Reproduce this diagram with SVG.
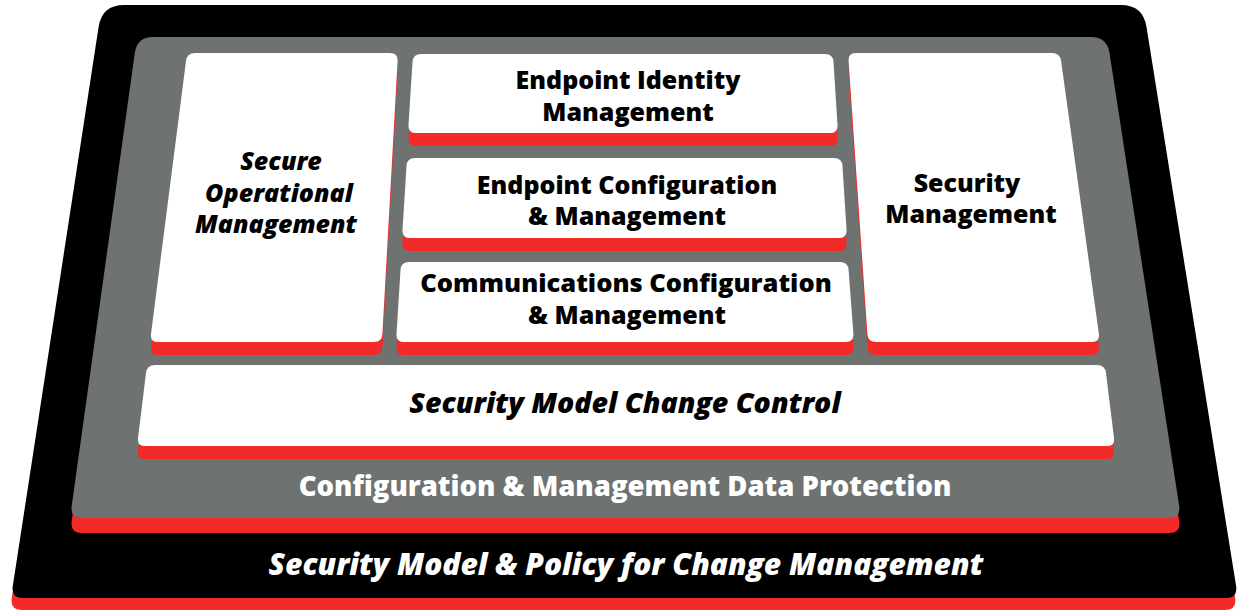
<svg xmlns="http://www.w3.org/2000/svg" width="1243" height="611" viewBox="0 0 1243 611">
<style>
.red{fill:#f22a28}
.blk{fill:#000}
.gry{fill:#6e7271}
.box{fill:#fff}
.t{font-family:"Open Sans","Liberation Sans",sans-serif;font-weight:800;font-size:25px;fill:#000;text-anchor:middle}
.i{font-style:italic}
.w{fill:#fff}
</style>
<g id="outer-layer">
<path class="red" transform="translate(-1,12)" d="M124,5 H1121 Q1143,5 1146.5,27 L1236.1,586 Q1238,598 1226,598 H23 Q11,598 12.8,586 L98.6,27 Q102,5 124,5 Z"/>
<path class="blk" d="M124,5 H1121 Q1143,5 1146.5,27 L1236.1,586 Q1238,598 1226,598 H23 Q11,598 12.8,586 L98.6,27 Q102,5 124,5 Z"/>
<text class="t i w" x="626" y="575" style="font-size:30px">Security Model &amp; Policy for Change Management</text>
</g>
<g id="data-protection-layer">
<path class="red" transform="translate(0,15)" d="M153,37 H1091 Q1107,37 1109.5,53 L1179.2,506 Q1181,518 1169,518 H82 Q70,518 71.7,506 L134.8,53 Q137,37 153,37 Z"/>
<path class="gry" d="M153,37 H1091 Q1107,37 1109.5,53 L1179.2,506 Q1181,518 1169,518 H82 Q70,518 71.7,506 L134.8,53 Q137,37 153,37 Z"/>
<text class="t w" x="625" y="496" style="font-size:27.5px">Configuration &amp; Management Data Protection</text>
</g>
<g id="secure-operational-management">
<path class="red" transform="translate(0,13)" d="M195,53 H390 Q398,53 397.6,61 L382.4,334 Q382,342 374,342 H158 Q150,342 151,334 L186,61 Q187,53 195,53 Z"/>
<path class="box" d="M195,53 H390 Q398,53 397.6,61 L382.4,334 Q382,342 374,342 H158 Q150,342 151,334 L186,61 Q187,53 195,53 Z"/>
<text class="t i" x="281" y="170">Secure</text>
<text class="t i" x="279" y="202">Operational</text>
<text class="t i" x="276" y="233">Management</text>
</g>
<g id="endpoint-identity-management">
<path class="red" transform="translate(0,13)" d="M421,54 H825 Q833,54 833.5,62 L837.5,125 Q838,133 830,133 H416 Q408,133 408.5,125 L412.5,62 Q413,54 421,54 Z"/>
<path class="box" d="M421,54 H825 Q833,54 833.5,62 L837.5,125 Q838,133 830,133 H416 Q408,133 408.5,125 L412.5,62 Q413,54 421,54 Z"/>
<text class="t" x="628" y="89">Endpoint Identity</text>
<text class="t" x="628" y="121">Management</text>
</g>
<g id="endpoint-configuration-management">
<path class="red" transform="translate(0,13)" d="M415,158 H834 Q842,158 842.5,166 L846.5,230 Q847,238 839,238 H410 Q402,238 402.5,230 L406.5,166 Q407,158 415,158 Z"/>
<path class="box" d="M415,158 H834 Q842,158 842.5,166 L846.5,230 Q847,238 839,238 H410 Q402,238 402.5,230 L406.5,166 Q407,158 415,158 Z"/>
<text class="t" x="627" y="194">Endpoint Configuration</text>
<text class="t" x="627" y="225">&amp; Management</text>
</g>
<g id="communications-configuration-management">
<path class="red" transform="translate(0,13)" d="M409,262 H840 Q848,262 848.6,270 L853.4,334 Q854,342 846,342 H404 Q396,342 396.5,334 L400.5,270 Q401,262 409,262 Z"/>
<path class="box" d="M409,262 H840 Q848,262 848.6,270 L853.4,334 Q854,342 846,342 H404 Q396,342 396.5,334 L400.5,270 Q401,262 409,262 Z"/>
<text class="t" x="626" y="292" style="font-size:25.5px">Communications Configuration</text>
<text class="t" x="627" y="324">&amp; Management</text>
</g>
<g id="security-management">
<path class="red" transform="translate(0,13)" d="M856,53 H1052 Q1060,53 1061.1,61 L1098.9,334 Q1100,342 1092,342 H876 Q868,342 867.4,334 L848.6,61 Q848,53 856,53 Z"/>
<path class="box" d="M856,53 H1052 Q1060,53 1061.1,61 L1098.9,334 Q1100,342 1092,342 H876 Q868,342 867.4,334 L848.6,61 Q848,53 856,53 Z"/>
<text class="t" x="967" y="192">Security</text>
<text class="t" x="971" y="223">Management</text>
</g>
<g id="security-model-change-control">
<path class="red" transform="translate(0,13)" d="M155,365 H1097 Q1105,365 1106,373 L1114,438 Q1115,446 1107,446 H145 Q137,446 138,438 L146,373 Q147,365 155,365 Z"/>
<path class="box" d="M155,365 H1097 Q1105,365 1106,373 L1114,438 Q1115,446 1107,446 H145 Q137,446 138,438 L146,373 Q147,365 155,365 Z"/>
<text class="t i" x="625" y="413" style="font-size:28.5px">Security Model Change Control</text>
</g>
<g id="connectors"></g>
</svg>
